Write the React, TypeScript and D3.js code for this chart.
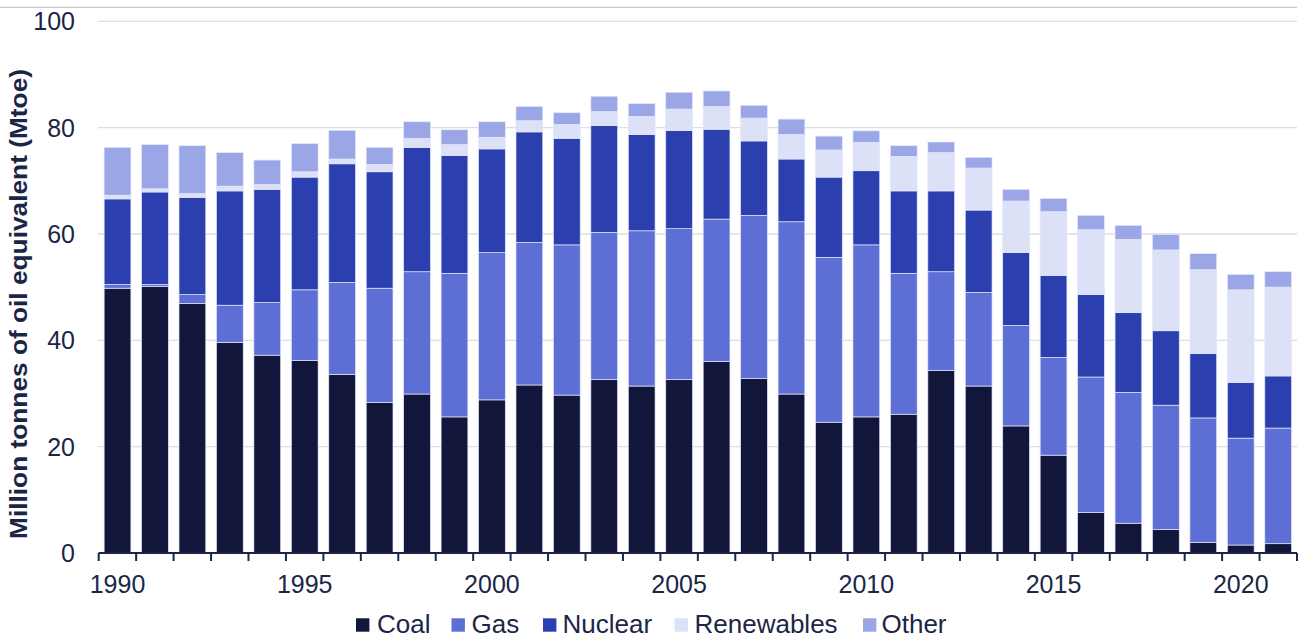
import React from "react";
import * as d3 from "d3";

const years = d3.range(1990, 2022).map(String);
const coal = [49.8, 50.1, 46.9, 39.6, 37.2, 36.2, 33.6, 28.3, 29.9, 25.6, 28.8, 31.6, 29.7, 32.6, 31.4, 32.6, 36.0, 32.8, 29.9, 24.6, 25.6, 26.1, 34.3, 31.4, 23.9, 18.4, 7.6, 5.6, 4.4, 2.0, 1.5, 1.75];
const gas = [0.7, 0.4, 1.7, 7.0, 9.9, 13.3, 17.3, 21.5, 23.0, 27.0, 27.7, 26.8, 28.25, 27.7, 29.2, 28.4, 26.8, 30.7, 32.4, 31.0, 32.35, 26.5, 18.6, 17.6, 18.9, 18.4, 25.5, 24.6, 23.4, 23.4, 20.1, 21.75];
const nuclear = [16.1, 17.4, 18.3, 21.5, 21.3, 21.2, 22.3, 21.9, 23.4, 22.2, 19.5, 20.8, 20.05, 20.1, 18.1, 18.45, 16.9, 14.0, 11.8, 15.1, 13.95, 15.5, 15.2, 15.5, 13.7, 15.4, 15.5, 15.0, 14.0, 12.1, 10.5, 9.8];
const renewables = [0.7, 0.6, 0.7, 0.9, 0.9, 1.0, 0.9, 1.4, 1.7, 2.0, 2.2, 2.1, 2.6, 2.6, 3.4, 4.05, 4.3, 4.3, 4.6, 5.1, 5.35, 6.5, 7.2, 7.9, 9.7, 12.0, 12.2, 13.8, 15.2, 15.8, 17.4, 16.7];
const other = [9.0, 8.3, 9.0, 6.3, 4.6, 5.3, 5.4, 3.2, 3.1, 2.8, 2.9, 2.7, 2.2, 2.9, 2.4, 3.15, 2.9, 2.4, 2.9, 2.6, 2.15, 2.0, 2.0, 2.0, 2.2, 2.5, 2.7, 2.6, 2.9, 3.0, 2.9, 2.9];
const seriesNames = ["Coal", "Gas", "Nuclear", "Renewables", "Other"];
const seriesValues = [coal, gas, nuclear, renewables, other];
const colors = ["#11163a", "#5d6ed5", "#2b3fae", "#dce1f8", "#9aa6e5"];
const yTicks = [0, 20, 40, 60, 80, 100];
const xLabelYears = ["1990", "1995", "2000", "2005", "2010", "2015", "2020"];

const W = 1301;
const H = 639;
const left = 98.7;
const right = 1297;
const top = 21.3;
const bottom = 553;
const textColor = "#1b2647";
const font = "'Liberation Sans', Arial, sans-serif";

export default function App() {
  const x = d3.scaleBand<string>().domain(years).range([left, right]).paddingInner(0.285).paddingOuter(0.145);
  const y = d3.scaleLinear().domain([0, 100]).range([bottom, top]);
  const table = years.map((yr, i) => {
    const o: any = { year: yr };
    seriesNames.forEach((s, k) => (o[s] = seriesValues[k][i]));
    return o;
  });
  const stacked = d3.stack<any>().keys(seriesNames)(table);
  const step = (right - left) / years.length;
  const tickXs = d3.range(years.length + 1).map((i) => left + i * step);

  const legendItems = [
    { sq: 356, tx: 377 },
    { sq: 451.5, tx: 471.5 },
    { sq: 543, tx: 562.5 },
    { sq: 674.5, tx: 694.5 },
    { sq: 863, tx: 881.5 },
  ];

  return (
    <svg width={W} height={H} style={{ position: "absolute", left: 0, top: 0, background: "#fff" }} fontFamily={font}>
      <line x1={0} x2={right} y1={7.3} y2={7.3} stroke="#c8c8c8" strokeWidth={1.3} />
      {yTicks.filter((t) => t > 0).map((t) => (
        <line key={t} x1={left - 1} x2={right} y1={y(t)} y2={y(t)} stroke="#dedede" strokeWidth={1.3} />
      ))}
      {yTicks.map((t) => (
        <text key={t} x={75} y={y(t)} dy="0.36em" textAnchor="end" fontSize={25} fill={textColor}>
          {t}
        </text>
      ))}
      <text
        transform={`translate(27,${(68 + 540) / 2}) rotate(-90)`}
        textAnchor="middle"
        fontSize={24.5}
        fontWeight="bold"
        fill={textColor}
        textLength={470}
        lengthAdjust="spacingAndGlyphs"
      >
        Million tonnes of oil equivalent (Mtoe)
      </text>
      {stacked.map((layer, k) => (
        <g key={layer.key} fill={colors[k]}>
          {layer.map((d, i) => (
            <rect
              key={i}
              x={x(years[i])}
              width={x.bandwidth()}
              y={y(d[1])}
              height={Math.max(0, y(d[0]) - y(d[1]))}
              stroke="#e3e7fb"
              strokeWidth={0.7}
            />
          ))}
        </g>
      ))}
      <line x1={left} x2={right} y1={bottom} y2={bottom} stroke={textColor} strokeWidth={2} />
      {tickXs.map((tx, i) => (
        <line key={i} x1={tx} x2={tx} y1={bottom} y2={bottom + 8} stroke={textColor} strokeWidth={2} />
      ))}
      {xLabelYears.map((yr) => (
        <text key={yr} x={(x(yr) as number) + x.bandwidth() / 2} y={593} textAnchor="middle" fontSize={25} fill={textColor}>
          {yr}
        </text>
      ))}
      {seriesNames.map((s, k) => (
        <g key={s}>
          <rect x={legendItems[k].sq} y={618.3} width={13.4} height={13.4} fill={colors[k]} />
          <text x={legendItems[k].tx} y={633} fontSize={26} fill={textColor}>
            {s}
          </text>
        </g>
      ))}
    </svg>
  );
}
